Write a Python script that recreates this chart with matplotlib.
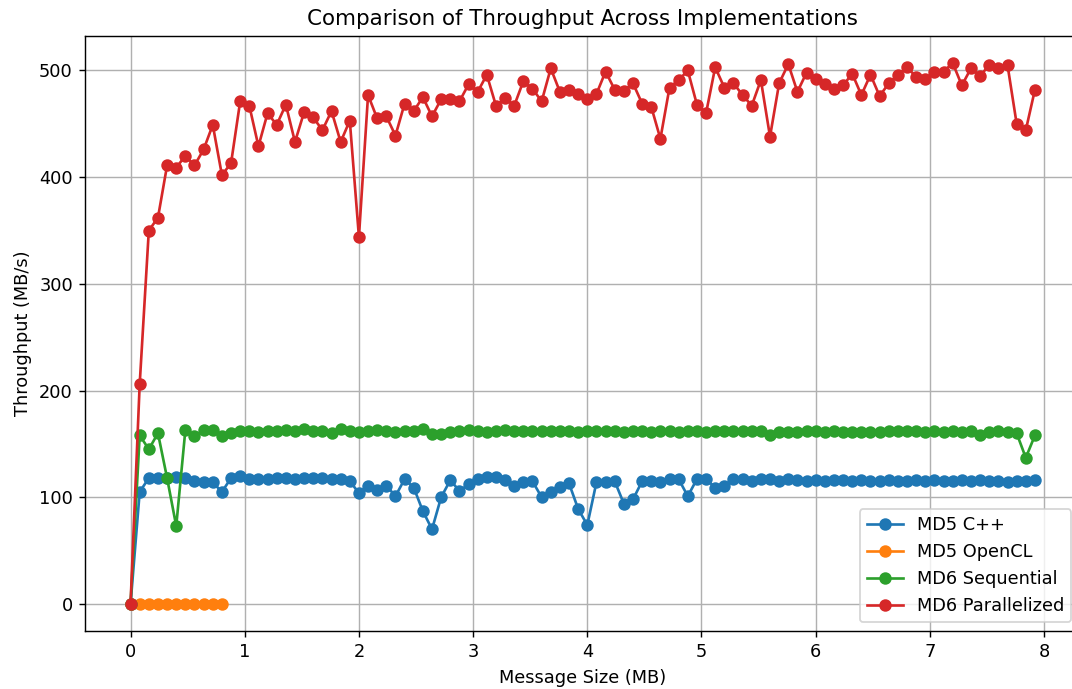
import numpy as np
import matplotlib
matplotlib.use("Agg")
import matplotlib.pyplot as plt

# message sizes in MB (100 sizes, 0.08 MB apart)
sizes = np.arange(100) * 0.08
opencl_sizes = sizes[:11]

md5_cpp = [
    0, 105, 118, 118, 118, 119, 118, 115, 114, 114,
    105, 118, 120, 117, 117, 117, 118, 118, 117, 118,
    118, 118, 117, 117, 115, 104, 111, 107, 111, 101,
    117, 109, 87, 70, 100, 116, 106, 112, 117, 119,
    119, 116, 111, 114, 115, 100, 105, 110, 113, 89,
    74, 114, 114, 115, 94, 98, 115, 115, 114, 117,
    117, 101, 117, 117, 109, 111, 117, 117, 115, 117,
    117, 115, 117, 116, 115, 116, 115, 116, 116, 115,
    116, 115, 115, 116, 115, 115, 116, 115, 116, 115,
    115, 116, 115, 116, 115, 115, 114, 115, 115, 116,
]
md5_opencl = [0, 0, 0, 0, 0, 0, 0, 0, 0, 0, 0]
md6_seq = [
    0, 158, 145, 160, 118, 73, 163, 157, 163, 163,
    157, 160, 162, 162, 161, 162, 162, 163, 162, 164,
    162, 162, 160, 164, 162, 161, 162, 163, 162, 161,
    162, 162, 164, 159, 159, 161, 162, 163, 162, 161,
    162, 163, 162, 162, 162, 162, 162, 162, 162, 161,
    162, 162, 162, 162, 161, 162, 162, 161, 162, 162,
    161, 162, 162, 161, 162, 162, 162, 162, 162, 162,
    158, 161, 161, 161, 162, 162, 161, 162, 161, 161,
    161, 161, 161, 162, 162, 162, 162, 161, 162, 161,
    162, 161, 162, 158, 161, 162, 161, 160, 137, 158,
]
md6_par = [
    0, 206, 350, 362, 411, 409, 420, 411, 426, 449,
    402, 413, 471, 467, 429, 460, 449, 468, 433, 461,
    456, 444, 462, 433, 453, 344, 477, 455, 457, 439,
    469, 462, 475, 457, 473, 473, 471, 487, 480, 496,
    467, 474, 467, 490, 483, 471, 502, 480, 482, 478,
    473, 478, 499, 482, 481, 488, 469, 466, 436, 484,
    491, 500, 468, 460, 503, 484, 488, 477, 467, 491,
    438, 488, 506, 480, 498, 492, 487, 483, 486, 497,
    477, 496, 476, 488, 496, 503, 494, 492, 499, 499,
    507, 486, 502, 495, 505, 502, 505, 450, 444, 482,
]

fig = plt.figure(figsize=(1072 / 128, 689 / 128), dpi=128)
ax = fig.add_axes([0.0796, 0.0842, 0.928, 0.8636])

ax.plot(sizes, md5_cpp, marker='o', label='MD5 C++')
ax.plot(opencl_sizes, md5_opencl, marker='o', label='MD5 OpenCL')
ax.plot(sizes, md6_seq, marker='o', label='MD6 Sequential')
ax.plot(sizes, md6_par, marker='o', label='MD6 Parallelized')

ax.set_title("Comparison of Throughput Across Implementations")
ax.set_xlabel("Message Size (MB)")
ax.set_ylabel("Throughput (MB/s)")
ax.grid(True)
ax.legend(loc='lower right')

fig.savefig("out.png", dpi=128)
